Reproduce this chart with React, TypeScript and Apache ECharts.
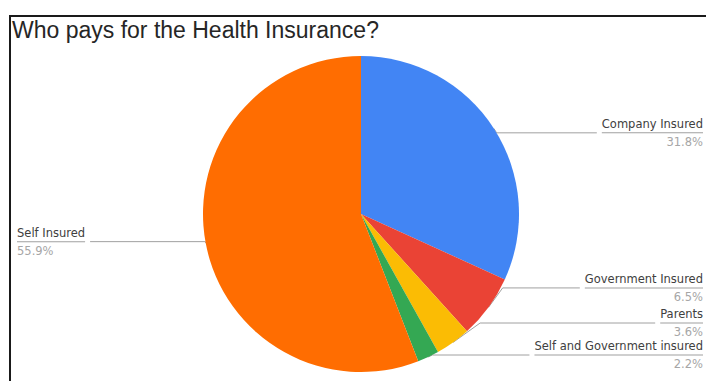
import React, { useEffect, useRef } from "react";
import * as echarts from "echarts";

const titleText = "Who pays for the Health Insurance?";
const categories = [
  "Company Insured",
  "Government Insured",
  "Parents",
  "Self and Government insured",
  "Self Insured",
];
const shares = [31.8, 6.5, 3.6, 2.2, 55.9];
const colors = ["#4285F4", "#EA4335", "#FBBC04", "#34A853", "#FF6D01"];

export default function App() {
  const ref = useRef<HTMLDivElement>(null);
  useEffect(() => {
    if (!ref.current) return;
    const chart = echarts.init(ref.current, null, { renderer: "svg" });
    const font = "'Liberation Sans', Arial, sans-serif";
    const labelFont = "'DejaVu Sans', 'Liberation Sans', sans-serif";
    chart.setOption({
      animation: false,
      backgroundColor: "#ffffff",
      title: {
        text: titleText,
        left: 12,
        top: 18,
        padding: 0,
        textStyle: { fontSize: 23, fontWeight: "normal", color: "#262626", fontFamily: font },
      },
      graphic: [
        { type: "line", shape: { x1: 9, y1: 16, x2: 706, y2: 16 }, style: { stroke: "#1a1a1a", lineWidth: 2 } },
        { type: "line", shape: { x1: 10, y1: 16, x2: 10, y2: 381 }, style: { stroke: "#1a1a1a", lineWidth: 2 } },
      ],
      series: [
        {
          type: "pie",
          left: 0,
          right: 0,
          top: 0,
          bottom: 10,
          center: [361, 214],
          radius: 158,
          startAngle: 90,
          clockwise: true,
          avoidLabelOverlap: true,
          itemStyle: { borderWidth: 0 },
          label: {
            alignTo: "edge",
            edgeDistance: 3,
            fontFamily: labelFont,
            formatter: (p: any) => `{n|${p.name}}\n{hr|}\n{p|${p.value.toFixed(1)}%}`,
            rich: {
              n: { fontSize: 11.5, color: "#404040", lineHeight: 17, fontFamily: labelFont },
              hr: { backgroundColor: "#a0a0a0", width: "100%", height: 1, lineHeight: 1 },
              p: { fontSize: 11.5, color: "#a6a6a6", lineHeight: 17, fontFamily: labelFont },
            },
          },
          labelLine: { length: 2, length2: 10, lineStyle: { color: "#a0a0a0", width: 1 } },
          data: categories.map((name, i) => ({
            name,
            value: shares[i],
            itemStyle: { color: colors[i] },
            label: i === 4 ? { edgeDistance: 17 } : undefined,
            labelLine: i === 0 || i === 4 ? { length: -8 } : undefined,
          })),
        },
      ],
    });
    return () => chart.dispose();
  }, []);
  return <div ref={ref} style={{ position: "absolute", left: 0, top: 0, width: 706, height: 381 }} />;
}
